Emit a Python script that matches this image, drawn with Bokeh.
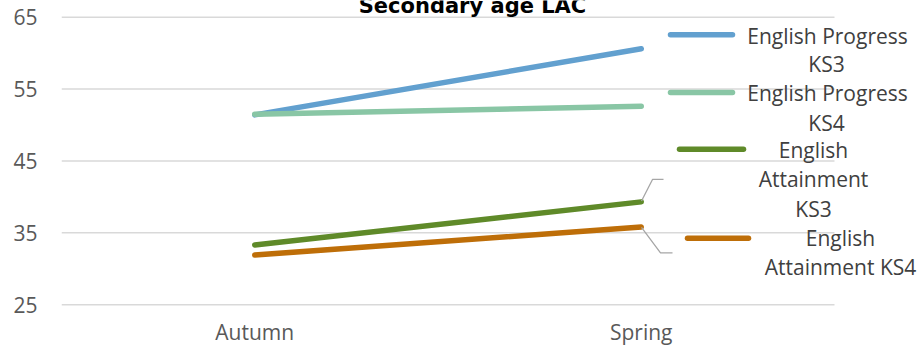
from bokeh.plotting import figure
from bokeh.models import Range1d, Label
from bokeh.embed import file_html
from bokeh.resources import INLINE

# Data
terms = ["Autumn", "Spring"]
series_names = [
    "English Progress KS3",
    "English Progress KS4",
    "English Attainment KS3",
    "English Attainment KS4",
]
progress_ks3 = [51.4, 60.6]
progress_ks4 = [51.5, 52.6]
attainment_ks3 = [33.3, 39.3]
attainment_ks4 = [31.9, 35.8]
y_ticks = [25, 35, 45, 55, 65]

series_values = [progress_ks3, progress_ks4, attainment_ks3, attainment_ks4]
colors = ["#62A0CF", "#89C6A5", "#5F8A29", "#BE6E08"]

FONT = "Open Sans"
TEXT = "#404040"

# Canvas layout: plotting area spans x 61..834 and y 17..311 (value 65..25);
# the frame itself runs to the right and top edges so the legend and title
# can sit beside/above the plotting area.
W, H = 922, 348
PL, PR, PT, PB = 61, 834, 17, 311
FB = 318
term_pos = list(range(len(terms)))
x_lo, x_hi = -0.5, len(terms) - 0.5
y_lo, y_hi = min(y_ticks), max(y_ticks)
px_per_x = (PR - PL) / (x_hi - x_lo)
px_per_y = (PB - PT) / (y_hi - y_lo)

p = figure(
    width=W, height=H,
    x_range=Range1d(x_lo, x_lo + (W - PL) / px_per_x),
    y_range=Range1d(y_lo - (FB - PB) / px_per_y, y_hi + PT / px_per_y),
    output_backend="svg", toolbar_location=None,
    min_border_left=PL, min_border_right=0,
    min_border_top=0, min_border_bottom=H - FB,
    outline_line_color=None,
)
p.extra_x_ranges = {"px": Range1d(PL, W)}
p.extra_y_ranges = {"px": Range1d(FB, 0)}

p.yaxis.ticker = y_ticks
p.yaxis.axis_line_color = None
p.yaxis.major_tick_line_color = None
p.yaxis.major_tick_out = 0
p.yaxis.minor_tick_line_color = None
p.yaxis.major_label_standoff = 24
p.yaxis.major_label_text_font = FONT
p.yaxis.major_label_text_font_size = "21px"
p.yaxis.major_label_text_color = "#595959"

p.xaxis.ticker = term_pos
p.xaxis.major_label_overrides = {i: t for i, t in zip(term_pos, terms)}
p.xaxis.axis_line_color = None
p.xaxis.major_tick_line_color = None
p.xaxis.major_tick_out = 0
p.xaxis.minor_tick_line_color = None
p.xaxis.major_label_standoff = 6
p.xaxis.major_label_text_font = FONT
p.xaxis.major_label_text_font_size = "21px"
p.xaxis.major_label_text_color = "#595959"

p.xgrid.grid_line_color = None
p.ygrid.grid_line_color = None

# Horizontal gridlines limited to the plotting area
p.segment(x0=[x_lo] * len(y_ticks), x1=[x_hi] * len(y_ticks),
          y0=y_ticks, y1=y_ticks, line_color="#D9D9D9", line_width=1.5)

for vals, col in zip(series_values, colors):
    p.line(term_pos, vals, line_color=col, line_width=5.5, line_cap="round")

# Leader lines next to the Spring end points
p.line([641, 652, 663], [205, 183, 183], x_range_name="px", y_range_name="px",
       line_color="#A6A6A6", line_width=1.3)
p.line([641, 660, 672], [232, 258, 258], x_range_name="px", y_range_name="px",
       line_color="#A6A6A6", line_width=1.3)

# Legend swatches
swatches = [(670, 732, 35), (670, 732, 94), (679, 743, 152), (687, 748, 243)]
for (x0, x1, yy), col in zip(swatches, colors):
    p.line([x0, x1], [yy, yy], x_range_name="px", y_range_name="px",
           line_color=col, line_width=5.5, line_cap="round")

# Legend text, wrapped and centred
legend_lines = [
    ("English Progress", 827, 36), ("KS3", 826, 65),
    ("English Progress", 827, 95), ("KS4", 826, 125),
    ("English", 813, 153), ("Attainment", 813, 183), ("KS3", 813, 213),
    ("English", 840, 243), ("Attainment KS4", 840, 273),
]
for txt, lx, ly in legend_lines:
    p.add_layout(Label(x=lx, y=ly, x_range_name="px", y_range_name="px",
                       text=txt, text_align="center", text_baseline="middle",
                       text_font=FONT, text_font_size="21px", text_color=TEXT))

# Title, running off the top edge
p.add_layout(Label(x=472, y=6, x_range_name="px", y_range_name="px",
                   text="Secondary age LAC", text_align="center",
                   text_baseline="alphabetic", text_font="DejaVu Sans",
                   text_font_style="bold", text_font_size="21px",
                   text_color="#000000"))

open("out.html", "w").write(file_html(p, INLINE))
